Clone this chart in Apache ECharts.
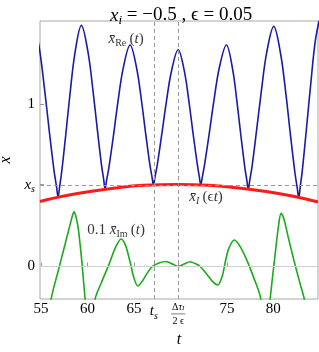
<!DOCTYPE html>
<html><head><meta charset="utf-8">
<script src="https://cdn.jsdelivr.net/npm/echarts@6/dist/echarts.min.js"></script>
<style>html,body{margin:0;padding:0;background:#fff}#c{width:319px;height:352px}</style>
</head><body><div id="c"></div>
<script>
// x̄_Re(t)
const reT = [53.95,54.76,55.37,55.89,56.42,56.68,56.85,57.00,57.225,57.675,58.125,58.65,59.35,60.064,60.60,61.06,61.52,61.75,61.90,62.06,62.30,62.79,63.27,63.84,64.59,65.29,65.82,66.27,66.72,66.95,67.10,67.26,67.50,67.98,68.46,69.02,69.76,70.44,70.95,71.39,71.83,72.04,72.19,72.36,72.60,73.10,73.60,74.18,74.95,75.61,76.10,76.52,76.95,77.16,77.30,77.46,77.71,78.20,78.70,79.27,80.04,80.79,81.36,81.84,82.33,82.57,82.73,82.88,83.11,83.56,84.02,84.54,85.25];
const reV = [1.55,1.366,1.100,0.837,0.585,0.490,0.426,0.487,0.578,0.813,1.060,1.310,1.483,1.318,1.081,0.845,0.622,0.535,0.477,0.530,0.605,0.801,1.008,1.217,1.362,1.221,1.018,0.816,0.625,0.550,0.501,0.549,0.621,0.806,1.000,1.196,1.333,1.197,1.001,0.807,0.623,0.550,0.503,0.551,0.627,0.817,1.018,1.221,1.362,1.216,1.006,0.798,0.601,0.525,0.472,0.530,0.616,0.840,1.075,1.312,1.477,1.304,1.055,0.807,0.572,0.482,0.421,0.487,0.588,0.849,1.123,1.399,1.59];
// x̄_I(εt)
const iT = [54.9,57,60,63,66,69.7,73,76,79,82,84.8];
const iV = [0.400,0.428,0.459,0.483,0.499,0.505,0.500,0.485,0.463,0.433,0.397];
// 0.1 x̄_Im(t)
const imT = [55.3,56.10,56.8,57.5,58.1,58.4,58.57,58.75,59.0,59.4,59.75,60.3,60.83,61.5,62.3,63.0,63.62,64.1,64.6,65.0,65.42,65.9,66.5,66.99,67.7,68.46,69.2,69.78,70.4,71.04,71.6,72.12,72.8,73.5,74.02,74.5,74.8,75.2,75.81,76.4,77.1,77.9,78.65,79.15,79.65,80.2,80.6,80.83,81.1,81.6,82.2,82.8,83.33,84.3,85.2];
const imV = [-0.55,-0.20,-0.04,0.115,0.25,0.315,0.337,0.31,0.24,0.03,-0.20,-0.50,-0.20,-0.10,0.01,0.115,0.169,0.13,0.025,-0.07,-0.120,-0.09,-0.035,0.0,0.022,0.031,0.014,0.0,0.015,0.029,0.018,0.0,-0.045,-0.095,-0.114,-0.06,0.02,0.11,0.163,0.125,0.045,-0.07,-0.20,-0.50,-0.20,0.08,0.27,0.327,0.30,0.18,0.04,-0.09,-0.20,-0.45,-0.65];
// reference values
const tS = 67.15, tMid = 69.76, xS = 0.503;
// ticks
const xTickValues = [55, 60, 65, 67.15, 69.76, 75, 80];
const xTickLabels = ['55','60','65','{i|t}{s|s}','{fn|Δ}{fi|τ}{fs|I}\n{fb|────}\n{fn|2 ϵ}','75','80'];
const yTickValues = [0, 0.503, 1];
const yTickLabels = ['0','{i|x}{s|s}','1'];
const annotText = ['{i|x\u0304}{u|Re} {n|(}{i|t}{n|)}', '{i|x\u0304}{s|I} {n|(ϵ}{i|t}{n|)}', '{n|0.1 }{i|x\u0304}{u|Im} {n|(}{i|t}{n|)}'];

const serif = '"Liberation Serif","DejaVu Serif",serif';
function mkRich(fs) {
  const sub = Math.round(fs * 0.68);
  return {
    n: {fontFamily: serif, fontSize: fs, fontWeight: 'normal', color: '#000', lineHeight: fs + 4, verticalAlign: 'middle'},
    i: {fontFamily: serif, fontSize: fs, fontWeight: 'normal', fontStyle: 'italic', color: '#000', lineHeight: fs + 4, verticalAlign: 'middle'},
    s: {fontFamily: serif, fontSize: sub, fontWeight: 'normal', fontStyle: 'italic', color: '#000', lineHeight: sub, verticalAlign: 'bottom'},
    u: {fontFamily: serif, fontSize: sub, fontWeight: 'normal', color: '#000', lineHeight: sub, verticalAlign: 'bottom'},
    fn: {fontFamily: serif, fontSize: 10, color: '#000', lineHeight: 10},
    fi: {fontFamily: serif, fontSize: 10, fontStyle: 'italic', color: '#000', lineHeight: 10},
    fs: {fontFamily: serif, fontSize: 7, fontStyle: 'italic', color: '#000', lineHeight: 8, verticalAlign: 'bottom'},
    fb: {fontFamily: '"DejaVu Sans Mono",monospace', fontSize: 6, color: '#000', lineHeight: 4}
  };
}
const zip = (a, b) => a.map((v, k) => [v, b[k]]);
const pick = (vals, labs) => v => { const k = vals.findIndex(x => Math.abs(x - v) < 1e-6); return k >= 0 ? labs[k] : ''; };

const chart = echarts.init(document.getElementById('c'), null, {renderer: 'canvas'});
chart.setOption({
  animation: false,
  backgroundColor: '#fff',
  title: {
    text: '{i|x}{s|i}{n| = −0.5 , ϵ = 0.05}',
    left: 105, top: -1,
    textStyle: {fontWeight: 'normal', rich: mkRich(19)}
  },
  grid: {left: 40, right: 1, top: 21, bottom: 53, show: true, borderColor: '#a8a8a8', borderWidth: 1, containLabel: false, outerBoundsMode: 'none'},
  xAxis: {
    type: 'value', min: 54.9, max: 84.8,
    axisLine: {show: false},
    axisTick: {show: true, inside: true, length: 4, customValues: xTickValues, lineStyle: {color: '#999'}},
    axisLabel: {customValues: xTickValues, formatter: pick(xTickValues, xTickLabels), margin: 3, rich: mkRich(15), fontFamily: serif, fontSize: 15, color: '#000'},
    splitLine: {show: false},
    name: 't', nameLocation: 'middle', nameGap: 33,
    nameTextStyle: {fontFamily: serif, fontStyle: 'italic', fontSize: 16, color: '#000'}
  },
  yAxis: {
    type: 'value', min: -0.2, max: 1.51,
    axisLine: {show: false},
    axisTick: {show: true, inside: true, length: 4, customValues: yTickValues, lineStyle: {color: '#999'}},
    axisLabel: {customValues: yTickValues, formatter: pick(yTickValues, yTickLabels), margin: 5, rich: mkRich(15), fontFamily: serif, fontSize: 15, color: '#000'},
    splitLine: {show: false},
    name: 'x', nameLocation: 'middle', nameGap: 24, nameRotate: 90,
    nameTextStyle: {fontFamily: serif, fontStyle: 'italic', fontSize: 16, color: '#000'}
  },
  series: [
    {
      type: 'line', data: [], z: 1, silent: true,
      markLine: {
        silent: true, symbol: 'none', label: {show: false},
        data: [
          {yAxis: 0, lineStyle: {color: '#cfcfcf', type: 'solid', width: 1}},
          {xAxis: tS, lineStyle: {color: '#9a9a9a', type: [4, 3], width: 1}},
          {xAxis: tMid, lineStyle: {color: '#9a9a9a', type: [4, 3], width: 1}},
          {yAxis: xS, lineStyle: {color: '#9a9a9a', type: [4, 3], width: 1}}
        ]
      }
    },
    {type: 'line', name: 'im', data: zip(imT, imV), showSymbol: false, smooth: 0.3, z: 2, lineStyle: {color: '#1aab1a', width: 1.6}},
    {type: 'line', name: 're', data: zip(reT, reV), showSymbol: false, smooth: 0.35, z: 3, lineStyle: {color: '#1a1aa6', width: 1.6}},
    {type: 'line', name: 'I', data: zip(iT, iV), showSymbol: false, smooth: 0.5, z: 4, lineStyle: {color: '#ff1a1a', width: 3}},
    {
      type: 'scatter', z: 5, symbolSize: 0, silent: true,
      data: [[64.16, 1.40, 0], [72.76, 0.427, 1], [63.09, 0.224, 2]],
      label: {show: true, position: 'inside', formatter: p => annotText[p.data[2]], rich: mkRich(15)}
    }
  ]
});
</script></body></html>
